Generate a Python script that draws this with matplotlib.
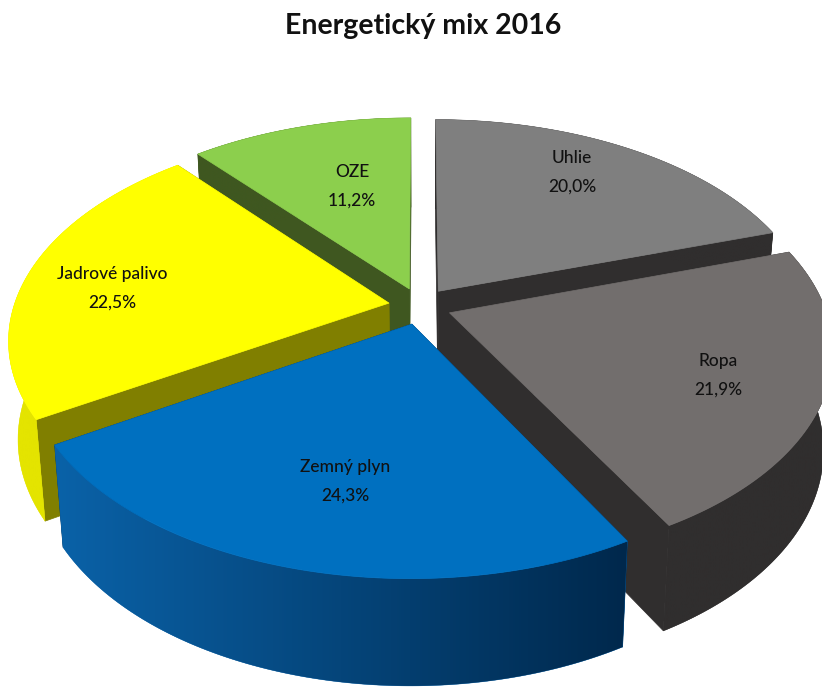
import numpy as np
import matplotlib
matplotlib.use("Agg")
import matplotlib.pyplot as plt
from matplotlib.colors import to_rgb
from matplotlib.patches import Polygon

names = ["Uhlie", "Ropa", "Zemný plyn", "Jadrové palivo", "OZE"]
values = [20.0, 21.9, 24.3, 22.5, 11.2]

top_colors = ["#7f7f7f", "#726e6d", "#0070c0", "#ffff00", "#8ccf4d"]
wall_colors = ["#302e2e", "#302e2e", "#002a50", "#807f00", "#3f5720"]
rim_left = ["#302e2e", "#302e2e", "#0a62a8", "#e4e400", "#3f5720"]
rim_right = ["#302e2e", "#302e2e", "#00284c", "#e4e400", "#3f5720"]
text_pos = [(572, 171), (718, 374), (345, 480), (112, 287), (352, 185)]
draw_order = [0, 4, 3, 1, 2]

CX, CY = 420, 306
RX, RY = 375, 205
PERSP = 0.168
EXPLODE_X = 0.084
EXPLODE_Y = 0.09
HEIGHT = 97
SHRINK = 0.977


def project(X, Y, low=False):
    s = 1 / (1 - Y * PERSP)
    x = CX + X * RX * s
    y = CY + Y * RY * s
    if low:
        x = CX + (x - CX) * SHRINK
        y = y + HEIGHT * np.sqrt(s)
    return np.column_stack([x, y])


def gradient(a, b, n=256):
    a, b = np.array(to_rgb(a)), np.array(to_rgb(b))
    t = np.linspace(0, 1, n)[:, None]
    return (a + (b - a) * t)[None, :, :]


fig = plt.figure(figsize=(8.22, 6.88), dpi=100)
ax = fig.add_axes([0, 0, 1, 1])

# slices go clockwise from 12 o'clock
edges = np.radians(np.concatenate([[0], np.cumsum(values)]) * 360 / sum(values))

z = 1
for i in draw_order:
    a0, a1 = edges[i], edges[i + 1]
    mid = (a0 + a1) / 2
    ox, oy = EXPLODE_X * np.sin(mid), -EXPLODE_Y * np.cos(mid)
    ang = np.linspace(a0, a1, 120)
    X = ox + np.sin(ang)
    Y = oy - np.cos(ang)

    top = project(X, Y)
    low = project(X, Y, low=True)
    apex = project(np.array([ox]), np.array([oy]))
    apex_low = project(np.array([ox]), np.array([oy]), low=True)

    # radial walls
    for end in (0, -1):
        wall = np.vstack([apex, top[end], low[end], apex_low])
        ax.add_patch(Polygon(wall, fc=wall_colors[i], ec=wall_colors[i], lw=0.5, zorder=z))
    z += 1

    # outer rim with the left to right shading, solid base under it hides seams
    rim = Polygon(np.vstack([top, low[::-1]]), fc=rim_left[i], ec=rim_left[i], lw=0.3, zorder=z)
    ax.add_patch(rim)
    all_pts = np.vstack([top, low])
    im = ax.imshow(gradient(rim_left[i], rim_right[i]), aspect="auto", zorder=z,
                   extent=(all_pts[:, 0].min(), all_pts[:, 0].max(),
                           all_pts[:, 1].max(), all_pts[:, 1].min()),
                   interpolation="bilinear")
    im.set_clip_path(rim)
    z += 1

    ax.add_patch(Polygon(np.vstack([apex, top]), fc=top_colors[i], ec=top_colors[i],
                         lw=0.5, zorder=z))
    z += 1

ax.set_xlim(0, 822)
ax.set_ylim(688, 0)
ax.axis("off")

for name, val, (tx, ty) in zip(names, values, text_pos):
    pct = f"{val:.1f}".replace(".", ",") + "%"
    ax.text(tx, ty - 13, name, ha="center", va="center", fontsize=12.5,
            family="Lato", weight="medium", color="#111111", zorder=z)
    ax.text(tx, ty + 16, pct, ha="center", va="center", fontsize=12.5,
            family="Lato", weight="medium", color="#111111", zorder=z)

ax.text(423, 26, "Energetický mix 2016", ha="center", va="center", fontsize=20.5,
        family="Lato", weight="bold", color="#111111", zorder=z)

fig.savefig("out.png", dpi=100)
